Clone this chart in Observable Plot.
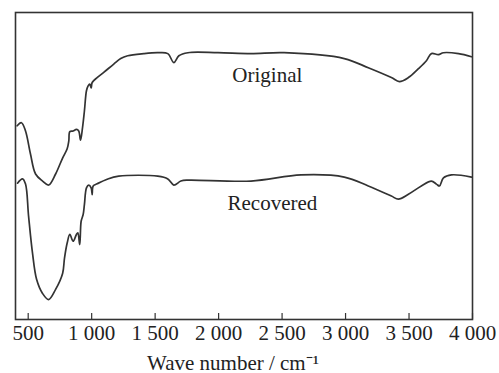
<!DOCTYPE html>
<html>
<head>
<meta charset="utf-8">
<script src="https://cdn.jsdelivr.net/npm/d3@7"></script>
<script src="https://cdn.jsdelivr.net/npm/@observablehq/plot@0.6"></script>
<style>
  html, body { margin: 0; padding: 0; background: #fff; }
  #chart svg { display: block; }
</style>
</head>
<body>
<div id="chart"></div>
<script>
// Wavenumber (cm^-1) and transmittance (a.u.)
const originalWn = [413, 447, 479, 518, 558, 613, 661, 716, 771, 807, 820, 828, 854, 880, 898, 912, 928, 943, 959, 972, 985, 996, 1004, 1043, 1095, 1174, 1229, 1284, 1411, 1521, 1600, 1647, 1687, 1758, 1995, 2255, 2516, 2990, 3179, 3361, 3424, 3495, 3574, 3637, 3676, 3732, 3771, 3890, 3992];
const originalT  = [63.1, 64.1, 61.4, 53.9, 47.4, 45.1, 43.8, 47.4, 52.6, 55.6, 58.2, 61.2, 61.4, 61.9, 61.4, 58.4, 62.5, 68.0, 74.5, 76.1, 76.7, 75.4, 77.2, 78.8, 80.5, 83.2, 85.0, 85.9, 86.6, 86.9, 86.6, 83.7, 85.9, 86.9, 86.9, 86.6, 86.9, 85.0, 82.0, 78.8, 77.5, 78.8, 81.7, 84.3, 86.6, 86.3, 86.9, 86.6, 85.6];

const recoveredWn = [416, 455, 479, 503, 534, 566, 613, 661, 716, 771, 786, 807, 828, 854, 880, 891, 906, 917, 933, 943, 959, 977, 996, 1004, 1012, 1043, 1122, 1213, 1521, 1600, 1647, 1703, 1758, 2255, 2650, 2990, 3179, 3361, 3416, 3495, 3597, 3676, 3716, 3740, 3771, 3834, 3992];
const recoveredT  = [44.4, 45.8, 44.1, 33.7, 21.6, 13.1, 8.5, 6.5, 9.8, 15.0, 20.0, 24.9, 27.7, 25.5, 27.7, 28.2, 24.4, 32.0, 34.2, 37.5, 42.9, 43.8, 42.9, 40.7, 43.5, 44.2, 45.7, 46.7, 46.7, 45.8, 43.8, 45.1, 45.4, 45.1, 47.1, 46.4, 43.5, 40.2, 39.2, 40.8, 43.5, 45.1, 44.1, 43.5, 46.1, 47.1, 46.4];

const seriesNames = ["Original", "Recovered"];
const labelWn = [2384, 2424];
const labelT = [79.6, 37.8];

const xTicks = [500, 1000, 1500, 2000, 2500, 3000, 3500, 4000];
const xLabel = "Wave number / cm⁻¹";
const xDomain = [400, 4000];
const yDomain = [0, 100];

const fmt = d => d >= 1000 ? `${Math.floor(d / 1000)} ${String(d % 1000).padStart(3, "0")}` : String(d);

const original = originalWn.map((x, i) => ({x, y: originalT[i]}));
const recovered = recoveredWn.map((x, i) => ({x, y: recoveredT[i]}));
const labels = seriesNames.map((name, i) => ({name, x: labelWn[i], y: labelT[i]}));

const FONT = "'Liberation Serif', 'Times New Roman', Times, serif";

const chart = Plot.plot({
  width: 499,
  height: 373,
  marginLeft: 15,
  marginRight: 27,
  marginTop: 12,
  marginBottom: 54,
  style: {fontFamily: FONT, fontSize: "21px", color: "#222", background: "#fff"},
  x: {domain: xDomain},
  y: {domain: yDomain, axis: null},
  marks: [
    Plot.line(original, {x: "x", y: "y", stroke: "#333", strokeWidth: 1.7, curve: "catmull-rom"}),
    Plot.line(recovered, {x: "x", y: "y", stroke: "#333", strokeWidth: 1.7, curve: "catmull-rom"}),
    Plot.text(labels, {x: "x", y: "y", text: "name", fontSize: 21, fill: "#222", textAnchor: "middle", lineAnchor: "middle"}),
    Plot.axisX({ticks: xTicks, tickSize: -6, tickPadding: 12, tickFormat: fmt, stroke: "#333", strokeWidth: 1.2, fontSize: 21, fill: "#222", label: null}),
    Plot.text([xLabel], {text: d => d, frameAnchor: "bottom", lineAnchor: "bottom", dy: 50, dx: -11, fontSize: 21, fill: "#222"}),
    Plot.frame({stroke: "#333", strokeWidth: 1.6})
  ]
});
document.getElementById("chart").appendChild(chart);
</script>
</body>
</html>
